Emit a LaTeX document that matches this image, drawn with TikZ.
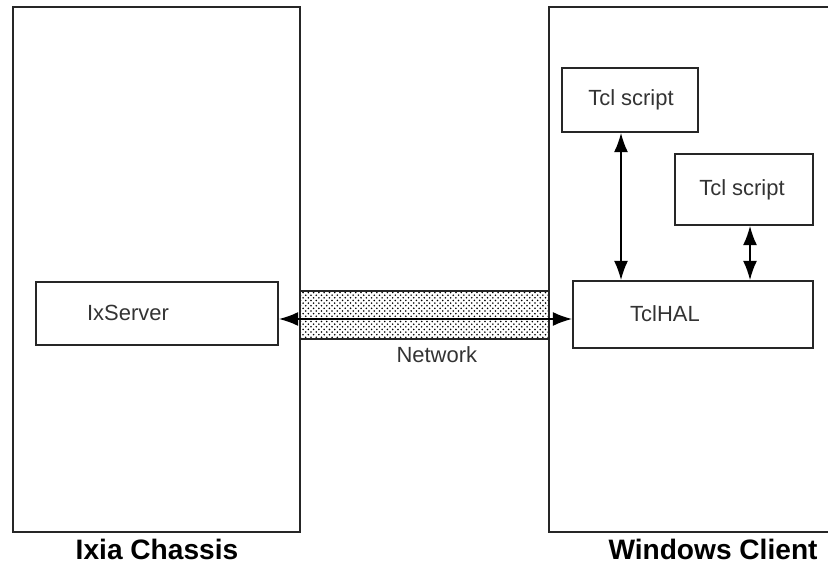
\documentclass[tikz,border=0pt]{standalone}
\usepackage{fontspec}
\setmainfont{Liberation Sans}
\usetikzlibrary{arrows.meta,patterns,fit,positioning}

\begin{document}
\begin{tikzpicture}[x=0.02cm,y=-0.02cm]

\tikzset{box/.style = {shape=rectangle,draw=black!85,line width=1pt,inner sep=0pt}}
\tikzset{txt/.style = {font=\fontsize{12.5}{15}\selectfont,text=black!80}}
\tikzset{title/.style = {font=\fontsize{16}{19}\selectfont\bfseries,inner sep=0pt}}
\tikzset{link/.style = {<->,line width=1pt,> = {Latex[length=11pt,width=8pt]}}}
\useasboundingbox (0,0) rectangle (828,564);

% frames
\node[box, fit={(13,7) (300,532)}] (chassis) {};
\draw[black!85,line width=1pt] (828,7) -| (549,532) -- (828,532);
\coordinate (client) at (549,270);

% network band
\node[box, pattern=crosshatch dots, pattern color=black,
      fit={(300,291) (549,339)}] (net) {};
\node[txt, below=0pt of net, xshift=7pt] (nettxt) {Network};

% boxes
\node[box, fit={(36,282) (278,345)}] (ixs) {};
\node[txt] (ixstxt) at (128,313) {IxServer};
\node[box, fit={(573,281) (813,348)}] (hal) {};
\node[txt] (haltxt) at (665,314) {TclHAL};
\node[box, fit={(562,68) (698,132)}, txt] (s1) {};
\node[txt] (s1txt) at (631,100) {Tcl script};
\node[box, fit={(675,154) (813,225)}] (s2) {};
\node[txt] (s2txt) at (742,190) {Tcl script};

% edges
\coordinate (a1) at (621,0);
\coordinate (a2) at (750,0);
\draw[link] (ixs.east |- 0,319) -- (hal.west |- 0,319);
\draw[link] (s1.south -| a1) -- (hal.north -| a1);
\draw[link] (s2.south -| a2) -- (hal.north -| a2);

% titles
\node[title] (chassistxt) at (157,549) {Ixia Chassis};
\node[title] (clienttxt) at (713,549) {Windows Client};

\end{tikzpicture}
\end{document}
